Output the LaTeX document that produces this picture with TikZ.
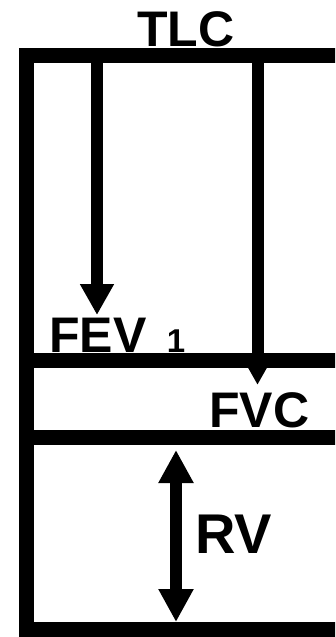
\documentclass[tikz,border=0pt]{standalone}
\usepackage{fontspec}
\setmainfont{Liberation Sans}
\usetikzlibrary{positioning,arrows.meta}

\begin{document}
\begin{tikzpicture}[
  x=1pt, y=-1pt,
  wall/.style={draw, line width=15pt, line join=miter},
  volarrow/.style={draw, line width=12pt, -{Triangle[width=32pt, length=31pt]}},
  rvarrow/.style={draw, line width=12pt, {Triangle[width=33pt, length=33pt]}-{Triangle[width=33pt, length=33pt]}},
  lbl/.style={inner sep=0pt, font=\bfseries\fontsize{50}{50}\selectfont},
  biglbl/.style={lbl, font=\bfseries\fontsize{56}{56}\selectfont}
]
  \useasboundingbox (0,0) rectangle (335,637);
  \clip (0,0) rectangle (335,637);

  % outer box, open on the right
  \draw[wall] (345,55.5) -- (26,55.5) -- (26,629) -- (345,629);
  \foreach \y in {360.5,437.5}
    \draw[wall] (26,\y) -- (345,\y);

  % arrow ends
  \coordinate (tlcA) at (97,63);
  \coordinate (fevA) at (97,315);
  \coordinate (tlcB) at (257.5,63);
  \coordinate (fvcB) at (257.5,385);
  \coordinate (rvTop) at (176,450);
  \coordinate (rvBot) at (176,622);

  \draw[volarrow] (tlcA) -- (fevA);
  \draw[volarrow] (tlcB) -- (fvcB);
  \draw[rvarrow] (rvTop) -- (rvBot);

  % labels
  \node[lbl, anchor=base] (tlc) at (186,46) {TLC};
  \node[lbl, anchor=base west] (fev) at (49,352) {FEV};
  \node[lbl, font=\bfseries\fontsize{33}{33}\selectfont] (fevsub) [right=20pt of fev.base east, anchor=base west] {1};
  \node[lbl, anchor=base west] (fvc) at (209,427) {FVC};
  \node[biglbl, anchor=base west] (rv) at (195,553) {RV};
\end{tikzpicture}
\end{document}
